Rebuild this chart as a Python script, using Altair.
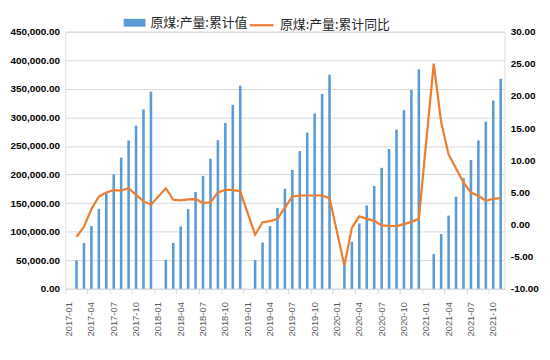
import altair as alt
import pandas as pd

years = [2017, 2018, 2019, 2020, 2021]
months = [f"{y}-{m:02d}" for y in years for m in range(1, 13)][:59]

prod_2017 = [None, 49700, 80300, 109800, 139900, 167600, 200000, 229500, 259500, 285500, 313900, 345100]
prod_2018 = [None, 50900, 80300, 109200, 139300, 169400, 197700, 227700, 260100, 290200, 322000, 355500]
prod_2019 = [None, 50300, 80900, 109800, 141600, 175100, 208100, 241000, 273400, 306900, 341000, 374600]
prod_2020 = [None, 47500, 82100, 114300, 145900, 180000, 211700, 244600, 278700, 312700, 347900, 384200]
prod_2021 = [None, 60600, 95800, 128100, 161000, 193800, 225600, 259600, 292500, 329400, 367500]

yoy_2017 = [None, -1.9, -0.36, 2.4, 4.36, 4.97, 5.33, 5.28, 5.64, 4.62, 3.59, 3.08]
yoy_2018 = [None, 5.64, 3.85, 3.74, 3.9, 3.95, 3.33, 3.44, 4.97, 5.38, 5.38, 5.13]
yoy_2019 = [None, -1.59, 0.36, 0.51, 0.87, 2.62, 4.36, 4.51, 4.51, 4.51, 4.51, 4.1]
yoy_2020 = [None, -6.4, -0.51, 1.28, 0.87, 0.56, -0.15, -0.2, -0.26, 0.05, 0.41, 0.87]
yoy_2021 = [None, 25.03, 15.9, 10.9, 8.7, 6.56, 4.97, 4.46, 3.69, 4.0, 4.1]

series_bar = "原煤:产量:累计值"
series_line = "原煤:产量:累计同比"

prod = prod_2017 + prod_2018 + prod_2019 + prod_2020 + prod_2021
yoy = yoy_2017 + yoy_2018 + yoy_2019 + yoy_2020 + yoy_2021

df = pd.DataFrame({"month": months, "prod": prod, "yoy": yoy})
df["s1"] = series_bar
df["s2"] = series_line

tick_months = months[::3]

x_enc = alt.X(
    "month:O",
    scale=alt.Scale(domain=months, paddingInner=0, paddingOuter=0),
    axis=alt.Axis(
        values=tick_months, labelAngle=270, bandPosition=0,
        tickSize=5, tickColor="#d9d9d9", domainColor="#d9d9d9", grid=False,
        title=None, labelFont="Liberation Sans", labelFontSize=9.5, labelColor="#595959",
        labelPadding=8,
    ),
)

base = alt.Chart(df)

bars = base.transform_filter("isValid(datum.prod)").mark_bar(size=2.6).encode(
    x=x_enc,
    y=alt.Y(
        "prod:Q",
        scale=alt.Scale(domain=[0, 450000], nice=False, zero=True),
        axis=alt.Axis(
            values=list(range(0, 450001, 50000)), format=",.2f", title=None,
            grid=True, gridColor="#d9d9d9", domain=False, ticks=False,
            labelFont="Liberation Sans", labelFontSize=10, labelFontWeight="bold",
            labelColor="#000000", labelPadding=6, orient="left",
        ),
    ),
    color=alt.Color(
        "s1:N",
        scale=alt.Scale(domain=[series_bar], range=["#5b9bd5"]),
        legend=alt.Legend(
            orient="none", legendX=59, legendY=-20, direction="horizontal", title=None,
            symbolType="M-1,-0.36L1,-0.36L1,0.36L-1,0.36Z", symbolSize=484,
            symbolStrokeWidth=0, labelFont="Noto Sans CJK SC", labelFontSize=13,
            labelColor="#262626", labelOffset=5,
        ),
    ),
)

line = base.transform_filter("isValid(datum.yoy)").mark_line(strokeWidth=2.25).encode(
    x=x_enc,
    y=alt.Y(
        "yoy:Q",
        scale=alt.Scale(domain=[-10, 30], nice=False, zero=False),
        axis=alt.Axis(
            values=list(range(-10, 31, 5)), title=None, grid=False, domain=False,
            ticks=False, orient="right",
            labelExpr="replace(format(datum.value, '.2f'), '\u2212', '-')",
            labelFont="Liberation Sans", labelFontSize=10, labelFontWeight="bold",
            labelColor="#000000", labelPadding=6,
        ),
    ),
    stroke=alt.Stroke(
        "s2:N",
        scale=alt.Scale(domain=[series_line], range=["#ed7d31"]),
        legend=alt.Legend(
            orient="none", legendX=185, legendY=-20, direction="horizontal", title=None,
            symbolType="stroke", symbolSize=576, symbolStrokeWidth=2.25,
            labelFont="Noto Sans CJK SC", labelFontSize=13, labelColor="#262626",
            labelOffset=5,
        ),
    ),
)

chart = alt.layer(bars, line).resolve_scale(
    y="independent", color="independent"
).properties(
    width=444, height=260,
    autosize=alt.AutoSizeParams(type="none"),
    padding={"left": 58, "top": 22, "right": 38, "bottom": 62},
).configure_view(
    stroke=None, fill="#f2f2f2"
).configure(background="#ffffff")

chart.save("out.html", embed_options={"renderer": "svg", "actions": False})
